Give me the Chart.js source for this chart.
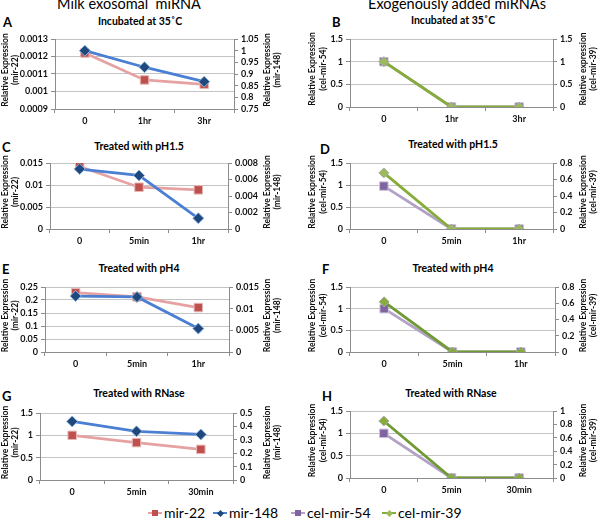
<!DOCTYPE html>
<html>
<head>
<meta charset="utf-8">
<script src="https://cdn.jsdelivr.net/npm/chart.js@4.4.1/dist/chart.umd.min.js"></script>
<style>
  body { margin: 0; background: #fff; }
  #wrap { position: relative; width: 600px; height: 521px; overflow: hidden; font-family: Lato, "Open Sans", sans-serif; color: #000; }
  canvas { position: absolute; }
  .hd { position: absolute; top: -3px; font-size: 14.5px; font-weight: 400; line-height: 14px; white-space: nowrap; transform: translateX(-50%); }
  .tt { position: absolute; font-size: 10.5px; font-weight: bold; line-height: 11px; white-space: nowrap; transform: translate(-50%, -50%); }
  .lt { position: absolute; font-size: 13px; font-weight: bold; line-height: 13px; transform: translateY(-50%); }
  .lg { position: absolute; top: 513px; transform: translateY(-50%); font-size: 14px; line-height: 16px; white-space: nowrap; display: flex; align-items: center; }
  .lg i { position: relative; display: inline-block; width: 14px; height: 2px; margin-right: 2px; }
  .lg i b { position: absolute; left: 4px; top: -2px; width: 6px; height: 6px; }
  .lg i b.d { transform: rotate(45deg); left: 5px; top: -1.5px; width: 5px; height: 5px; }
</style>
</head>
<body>
<div id="wrap">
  <div class="hd" style="left:129px">Milk exosomal&nbsp; miRNA</div>
  <div class="hd" style="left:457px">Exogenously added miRNAs</div>

  <div class="lt" style="left:3px;top:22px">A</div>
  <div class="lt" style="left:332px;top:22px">B</div>
  <div class="lt" style="left:2px;top:147px">C</div>
  <div class="lt" style="left:320px;top:149px">D</div>
  <div class="lt" style="left:2px;top:269px">E</div>
  <div class="lt" style="left:322px;top:269px">F</div>
  <div class="lt" style="left:2px;top:396px">G</div>
  <div class="lt" style="left:322px;top:396px">H</div>

  <div class="tt" style="left:140px;top:21px">Incubated at 35˚C</div>
  <div class="tt" style="left:453px;top:20px">Incubated at 35˚C</div>
  <div class="tt" style="left:139px;top:146px">Treated with pH1.5</div>
  <div class="tt" style="left:453px;top:144px">Treated with pH1.5</div>
  <div class="tt" style="left:139px;top:268px">Treated with pH4</div>
  <div class="tt" style="left:453px;top:268px">Treated with pH4</div>
  <div class="tt" style="left:139px;top:393px">Treated with RNase</div>
  <div class="tt" style="left:451px;top:393px">Treated with RNase</div>

  <canvas id="cA" width="300" height="102" style="left:0;top:28px"></canvas>
  <canvas id="cB" width="300" height="102" style="left:300px;top:28px"></canvas>
  <canvas id="cC" width="300" height="100" style="left:0;top:152px"></canvas>
  <canvas id="cD" width="300" height="100" style="left:300px;top:152px"></canvas>
  <canvas id="cE" width="300" height="100" style="left:0;top:276px"></canvas>
  <canvas id="cF" width="300" height="100" style="left:300px;top:276px"></canvas>
  <canvas id="cG" width="300" height="98" style="left:0;top:402px"></canvas>
  <canvas id="cH" width="300" height="100" style="left:300px;top:400px"></canvas>

  <div class="lg" style="left:148px"><i style="background:#E6A2A2"><b style="background:#C0504D"></b></i>mir-22</div>
  <div class="lg" style="left:213px"><i style="background:#4A7FD4"><b class="d" style="background:#1F497D"></b></i>mir-148</div>
  <div class="lg" style="left:291px"><i style="background:#B3A2C7"><b style="background:#8064A2"></b></i>cel-mir-54</div>
  <div class="lg" style="left:382px"><i style="background:#86AC3A"><b class="d" style="background:#9BBB59"></b></i>cel-mir-39</div>
</div>

<script>
// time points
var timesA = ["0", "1hr", "3hr"];
var timesC = ["0", "5min", "1hr"];
var timesG = ["0", "5min", "30min"];

// milk exosomal miRNA
var mir22A = [0.00122, 0.001066, 0.001041];
var mir148A = [1.0, 0.929, 0.867];
var mir22C = [0.0142, 0.0095, 0.0089];
var mir148C = [0.00727, 0.00649, 0.0013];
var mir22E = [0.228, 0.212, 0.171];
var mir148E = [0.0129, 0.0127, 0.0054];
var mir22G = [1.0, 0.837, 0.686];
var mir148G = [0.437, 0.363, 0.34];

// exogenously added miRNAs
var cel54B = [1, 0, 0];
var cel39B = [1, 0, 0];
var cel54D = [0.975, 0, 0];
var cel39D = [0.68, 0, 0];
var cel54F = [1.0, 0, 0];
var cel39F = [0.617, 0, 0];
var cel54H = [1.0, 0, 0];
var cel39H = [0.85, 0, 0];

// tick labels
var ticksA_l = ["0.0009", "0.001", "0.0011", "0.0012", "0.0013"];
var ticksA_r = ["0.75", "0.8", "0.85", "0.9", "0.95", "1", "1.05"];
var ticksB = ["0", "0.5", "1", "1.5"];
var ticksC_l = ["0", "0.005", "0.01", "0.015"];
var ticksC_r = ["0", "0.002", "0.004", "0.006", "0.008"];
var ticksD_r = ["0", "0.2", "0.4", "0.6", "0.8"];
var ticksE_l = ["0", "0.05", "0.1", "0.15", "0.2", "0.25"];
var ticksE_r = ["0", "0.005", "0.01", "0.015"];
var ticksG_r = ["0", "0.1", "0.2", "0.3", "0.4", "0.5"];
var ticksH_r = ["0", "0.2", "0.4", "0.6", "0.8", "1"];

var tickFont = { family: "Lato", size: 9, weight: "bold" };
var axisGrey = "#8C8C8C";

// vertical two-line axis titles, both reading bottom to top like Excel
var axisTitles = {
  id: "axisTitles",
  afterDraw: function (chart, args, opts) {
    var ctx = chart.ctx;
    var a = chart.chartArea;
    var cy = (a.top + a.bottom) / 2 - 4;
    ctx.save();
    ctx.font = "bold 8.5px Lato";
    ctx.fillStyle = "#111";
    ctx.textAlign = "center";
    ctx.textBaseline = "middle";
    [[opts.left, opts.lx], [opts.right, opts.rx]].forEach(function (p) {
      p[0].forEach(function (t, i) {
        ctx.save();
        ctx.translate(p[1][i], cy);
        ctx.rotate(-Math.PI / 2);
        ctx.fillText(t, 0, 0);
        ctx.restore();
      });
    });
    ctx.restore();
  },
};

function yAxis(labels, pos, width) {
  var vals = labels.map(Number);
  return {
    type: "linear",
    position: pos,
    min: vals[0],
    max: vals[vals.length - 1],
    afterBuildTicks: function (axis) {
      axis.ticks = vals.map(function (v) { return { value: v }; });
    },
    afterFit: function (axis) { axis.width = width; },
    ticks: {
      font: tickFont,
      color: "#111",
      padding: 3,
      autoSkip: false,
      callback: function (v, i) { return labels[i]; },
    },
    grid: {
      color: "#C4C4C4",
      tickColor: axisGrey,
      tickLength: 4,
      drawOnChartArea: pos === "left",
    },
    border: { color: axisGrey },
  };
}

function line(label, data, axis, color, fill, edge, style, radius) {
  return {
    label: label,
    data: data,
    yAxisID: axis,
    borderColor: color,
    borderWidth: 2.8,
    pointStyle: style,
    pointRadius: radius,
    pointBackgroundColor: fill,
    pointBorderColor: edge,
    pointBorderWidth: 1,
    tension: 0,
  };
}

function panel(id, p) {
  new Chart(id, {
    type: "line",
    data: { labels: p.labels, datasets: p.datasets },
    plugins: [axisTitles],
    options: {
      responsive: false,
      animation: false,
      devicePixelRatio: 1,
      layout: { padding: { top: p.padTop, left: 0, right: 0, bottom: 0 } },
      plugins: {
        legend: { display: false },
        tooltip: { enabled: false },
        axisTitles: { left: p.lt, right: p.rt, lx: p.lx, rx: p.rx },
      },
      scales: {
        x: {
          offset: true,
          afterFit: function (axis) { axis.height = p.xH; },
          ticks: { font: tickFont, color: "#111", padding: 3 },
          grid: { offset: true, drawOnChartArea: false, tickLength: 4, tickColor: axisGrey },
          border: { color: axisGrey },
        },
        y: yAxis(p.yl, "left", p.lw),
        y1: yAxis(p.yr, "right", p.rw),
      },
    },
  });
}

var leftX = [5, 15];
var leftRX = [267, 277];
var rightX = [12, 23];
var rightRX = [283, 293];

panel("cA", {
  labels: timesA, padTop: 11, xH: 21, lw: 55, rw: 66, yl: ticksA_l, yr: ticksA_r,
  lt: ["Relative Expression", "(mir-22)"], rt: ["Relative Expression", "(mir-148)"], lx: leftX, rx: leftRX,
  datasets: [
    line("mir-148", mir148A, "y1", "#4A7FD4", "#1F497D", "#8DB4E2", "rectRot", 5.5),
    line("mir-22", mir22A, "y", "#E6A2A2", "#C0504D", "#E6B9B8", "rect", 6),
  ],
});

panel("cC", {
  labels: timesC, padTop: 11, xH: 23, lw: 50, rw: 72, yl: ticksC_l, yr: ticksC_r,
  lt: ["Relative Expression", "(mir-22)"], rt: ["Relative Expression", "(mir-148)"], lx: leftX, rx: leftRX,
  datasets: [
    line("mir-148", mir148C, "y1", "#4A7FD4", "#1F497D", "#8DB4E2", "rectRot", 5.5),
    line("mir-22", mir22C, "y", "#E6A2A2", "#C0504D", "#E6B9B8", "rect", 6),
  ],
});

panel("cE", {
  labels: timesC, padTop: 11, xH: 24, lw: 45, rw: 71, yl: ticksE_l, yr: ticksE_r,
  lt: ["Relative Expression", "(mir-22)"], rt: ["Relative Expression", "(mir-148)"], lx: leftX, rx: leftRX,
  datasets: [
    line("mir-148", mir148E, "y1", "#4A7FD4", "#1F497D", "#8DB4E2", "rectRot", 5.5),
    line("mir-22", mir22E, "y", "#E6A2A2", "#C0504D", "#E6B9B8", "rect", 6),
  ],
});

panel("cG", {
  labels: timesG, padTop: 11, xH: 20, lw: 40, rw: 67, yl: ticksB, yr: ticksG_r,
  lt: ["Relative Expression", "(mir-22)"], rt: ["Relative Expression", "(mir-148)"], lx: leftX, rx: leftRX,
  datasets: [
    line("mir-148", mir148G, "y1", "#4A7FD4", "#1F497D", "#8DB4E2", "rectRot", 5.5),
    line("mir-22", mir22G, "y", "#E6A2A2", "#C0504D", "#E6B9B8", "rect", 6),
  ],
});

panel("cB", {
  labels: timesA, padTop: 11, xH: 23, lw: 50, rw: 47, yl: ticksB, yr: ticksB,
  lt: ["Relative Expression", "(cel-mir-54)"], rt: ["Relative expression", "(cel-mir-39)"], lx: rightX, rx: rightRX,
  datasets: [
    line("cel-mir-39", cel39B, "y1", "#86AC3A", "#9BBB59", "#A9A9A9", "rectRot", 5),
    line("cel-mir-54", cel54B, "y", "#B3A2C7", "#8064A2", "#CCC1DA", "rect", 6),
  ],
});

panel("cD", {
  labels: timesC, padTop: 11, xH: 23, lw: 50, rw: 47, yl: ticksB, yr: ticksD_r,
  lt: ["Relative Expression", "(cel-mir-54)"], rt: ["Relative Expression", "(cel-mir-39)"], lx: rightX, rx: rightRX,
  datasets: [
    line("cel-mir-39", cel39D, "y1", "#86AC3A", "#9BBB59", "#A9A9A9", "rectRot", 5),
    line("cel-mir-54", cel54D, "y", "#B3A2C7", "#8064A2", "#CCC1DA", "rect", 6),
  ],
});

panel("cF", {
  labels: timesC, padTop: 11, xH: 24, lw: 50, rw: 45, yl: ticksB, yr: ticksD_r,
  lt: ["Relative Expression", "(cel-mir-54)"], rt: ["Relative Expression", "(cel-mir-39)"], lx: rightX, rx: rightRX,
  datasets: [
    line("cel-mir-39", cel39F, "y1", "#6F9A34", "#86AC3A", "#A9A9A9", "rectRot", 5),
    line("cel-mir-54", cel54F, "y", "#B3A2C7", "#8064A2", "#CCC1DA", "rect", 6),
  ],
});

panel("cH", {
  labels: timesG, padTop: 11, xH: 22, lw: 50, rw: 47, yl: ticksB, yr: ticksH_r,
  lt: ["Relative Expression", "(cel-mir-54)"], rt: ["Relative Expression", "(cel-mir-39)"], lx: rightX, rx: rightRX,
  datasets: [
    line("cel-mir-39", cel39H, "y1", "#6F9A34", "#86AC3A", "#A9A9A9", "rectRot", 5),
    line("cel-mir-54", cel54H, "y", "#B3A2C7", "#8064A2", "#CCC1DA", "rect", 6),
  ],
});
</script>
</body>
</html>
